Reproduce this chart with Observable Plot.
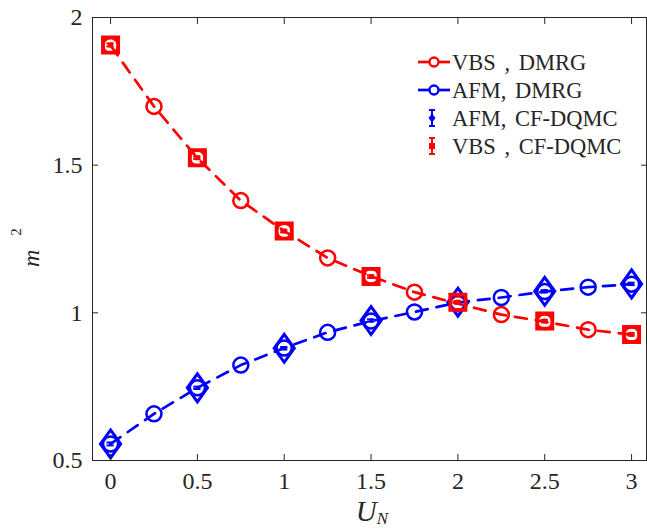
<!DOCTYPE html>
<html><head><meta charset="utf-8">
<script src="https://cdn.jsdelivr.net/npm/d3@7"></script>
<script src="https://cdn.jsdelivr.net/npm/@observablehq/plot@0.6"></script>
<style>body{margin:0;background:#fff;} svg{display:block;}</style>
</head><body><div id="chart"></div>
<script>
const uDMRG = [0, 0.25, 0.5, 0.75, 1, 1.25, 1.5, 1.75, 2, 2.25, 2.5, 2.75, 3];
const vbsDMRG = [1.905, 1.699, 1.524, 1.380, 1.277, 1.186, 1.124, 1.070, 1.031, 0.994, 0.970, 0.943, 0.926];
const afmDMRG = [0.556, 0.658, 0.746, 0.823, 0.881, 0.934, 0.972, 1.003, 1.035, 1.052, 1.072, 1.087, 1.097];
const uDQMC = [0, 0.5, 1, 1.5, 2, 2.5, 3];
const vbsDQMC = [1.907, 1.525, 1.277, 1.123, 1.036, 0.972, 0.927];
const vbsErr = [0.005, 0.004, 0.004, 0.004, 0.004, 0.004, 0.004];
const afmDQMC = [0.556, 0.746, 0.880, 0.974, 1.036, 1.073, 1.098];
const afmErr = [0.005, 0.004, 0.004, 0.004, 0.004, 0.004, 0.004];
const xTicks = [0, 0.5, 1, 1.5, 2, 2.5, 3];
const yTicks = [0.5, 1, 1.5, 2];
const legendLabels = ["VBS , DMRG", "AFM, DMRG", "AFM, CF-DQMC", "VBS , CF-DQMC"];

const RED = "#ff0000", BLUE = "#0000ff", INK = "#262626";
const FONT = "'Liberation Serif', 'Times New Roman', serif";

const dmrg = uDMRG.map((u, i) => ({u, vbs: vbsDMRG[i], afm: afmDMRG[i]}));
const dqmc = uDQMC.map((u, i) => ({u, vbs: vbsDQMC[i], ve: vbsErr[i], afm: afmDQMC[i], ae: afmErr[i]}));

const diamondSym = {draw(ctx, size) { const r = Math.sqrt(size / Math.PI), w = r * 0.72;
  ctx.moveTo(0, -r); ctx.lineTo(w, 0); ctx.lineTo(0, r); ctx.lineTo(-w, 0); ctx.closePath(); }};
const squareSym = {draw(ctx, size) { const r = Math.sqrt(size / Math.PI);
  ctx.moveTo(-r, -r); ctx.lineTo(r, -r); ctx.lineTo(r, r); ctx.lineTo(-r, r); ctx.closePath(); }};

const cap = 0.021;
function errMarks(key, ekey, color, sym, bigR) {
  return [
    Plot.ruleX(dqmc, {x: "u", y1: d => d[key] - d[ekey], y2: d => d[key] + d[ekey], stroke: color, strokeWidth: 2}),
    Plot.ruleY(dqmc, {y: d => d[key] - d[ekey], x1: d => d.u - cap, x2: d => d.u + cap, stroke: color, strokeWidth: 2}),
    Plot.ruleY(dqmc, {y: d => d[key] + d[ekey], x1: d => d.u - cap, x2: d => d.u + cap, stroke: color, strokeWidth: 2}),
    Plot.dot(dqmc, {x: "u", y: key, r: 2, symbol: sym, stroke: color, fill: color, strokeWidth: 1}),
    Plot.dot(dqmc, {x: "u", y: key, r: bigR, symbol: sym, stroke: color, fill: "none", strokeWidth: sym === squareSym ? 3.8 : 3, strokeLinejoin: "miter"})
  ];
}

const chart = Plot.plot({
  width: 647, height: 529,
  marginLeft: 92, marginRight: 1, marginTop: 17, marginBottom: 69,
  style: {fontFamily: FONT, fontSize: "24px", color: INK, background: "#fff"},
  x: {domain: [-0.104, 3.086], axis: null},
  y: {domain: [0.5, 2], axis: null},
  marks: [
    Plot.line(dmrg, {x: "u", y: "vbs", stroke: RED, strokeWidth: 2.7, strokeDasharray: "12,9"}),
    Plot.dot(dmrg, {x: "u", y: "vbs", r: 7.5, stroke: RED, strokeWidth: 2.5, fill: "none"}),
    Plot.line(dmrg, {x: "u", y: "afm", stroke: BLUE, strokeWidth: 2.7, strokeDasharray: "12,9"}),
    Plot.dot(dmrg, {x: "u", y: "afm", r: 7.5, stroke: BLUE, strokeWidth: 2.5, fill: "none"}),
    ...errMarks("afm", "ae", BLUE, diamondSym, 14),
    ...errMarks("vbs", "ve", RED, squareSym, 7.6),
    Plot.frame({stroke: INK, strokeWidth: 1}),
    Plot.axisX(xTicks, {anchor: "bottom", tickSize: 6, dy: -6, fill: "none", label: null, stroke: INK}),
    Plot.axisX(xTicks, {anchor: "top", tickSize: 6, dy: 6, fill: "none", label: null, stroke: INK}),
    Plot.axisY(yTicks, {anchor: "left", tickSize: 6, dx: 6, fill: "none", label: null, stroke: INK}),
    Plot.axisY(yTicks, {anchor: "right", tickSize: 6, dx: -6, fill: "none", label: null, stroke: INK}),
    Plot.axisX(xTicks, {anchor: "bottom", tickSize: 0, tickPadding: 11, label: null, fill: INK, tickFormat: d => `${d}`}),
    Plot.axisY(yTicks, {anchor: "left", tickSize: 0, tickPadding: 10, label: null, fill: INK, tickFormat: d => `${d}`})
  ]
});

const svg = d3.select(chart);
// axis titles
const xl = svg.append("text").attr("x", 372).attr("y", 521).attr("text-anchor", "middle")
  .attr("fill", INK).style("font-family", FONT).style("font-size", "29px").style("font-style", "italic");
xl.append("tspan").text("U");
xl.append("tspan").attr("dy", 3).style("font-size", "17px").text("N");

const yl = svg.append("text").attr("transform", "translate(39,267) rotate(-90)").attr("text-anchor", "start")
  .attr("fill", INK).style("font-family", FONT).style("font-size", "24px").style("font-style", "italic");
yl.append("tspan").text("m");
yl.append("tspan").attr("dx", 14).attr("dy", -18).style("font-size", "15px").style("font-style", "normal").text("2");

// legend
const lg = svg.append("g").attr("text-anchor", "start");
const rows = [62, 90, 118, 146];
const colors = [RED, BLUE, BLUE, RED];
legendLabels.forEach((lab, i) => {
  const y = rows[i], c = colors[i];
  if (i < 2) {
    lg.append("line").attr("x1", 418).attr("x2", 429).attr("y1", y).attr("y2", y).attr("stroke", c).attr("stroke-width", 2.7);
    lg.append("line").attr("x1", 439).attr("x2", 450).attr("y1", y).attr("y2", y).attr("stroke", c).attr("stroke-width", 2.7);
    lg.append("circle").attr("cx", 434).attr("cy", y).attr("r", 4.5).attr("fill", "none").attr("stroke", c).attr("stroke-width", 2.4);
  } else {
    lg.append("line").attr("x1", 432).attr("x2", 432).attr("y1", y - 8).attr("y2", y + 8).attr("stroke", c).attr("stroke-width", 2);
    lg.append("line").attr("x1", 429).attr("x2", 435).attr("y1", y - 8).attr("y2", y - 8).attr("stroke", c).attr("stroke-width", 2);
    lg.append("line").attr("x1", 429).attr("x2", 435).attr("y1", y + 8).attr("y2", y + 8).attr("stroke", c).attr("stroke-width", 2);
    if (i === 2) lg.append("path").attr("d", `M432,${y-4}L435,${y}L432,${y+4}L429,${y}Z`).attr("fill", c).attr("stroke", c);
    else lg.append("rect").attr("x", 429.5).attr("y", y - 2.5).attr("width", 5).attr("height", 5).attr("fill", c).attr("stroke", c);
  }
  lg.append("text").attr("x", 452).attr("y", y).attr("dy", "0.34em").attr("fill", INK).attr("text-anchor", "start")
    .style("font-family", FONT).style("font-size", "22.5px").style("word-spacing", "3px").text(lab);
});

document.getElementById("chart").appendChild(chart);
</script>
</body></html>
